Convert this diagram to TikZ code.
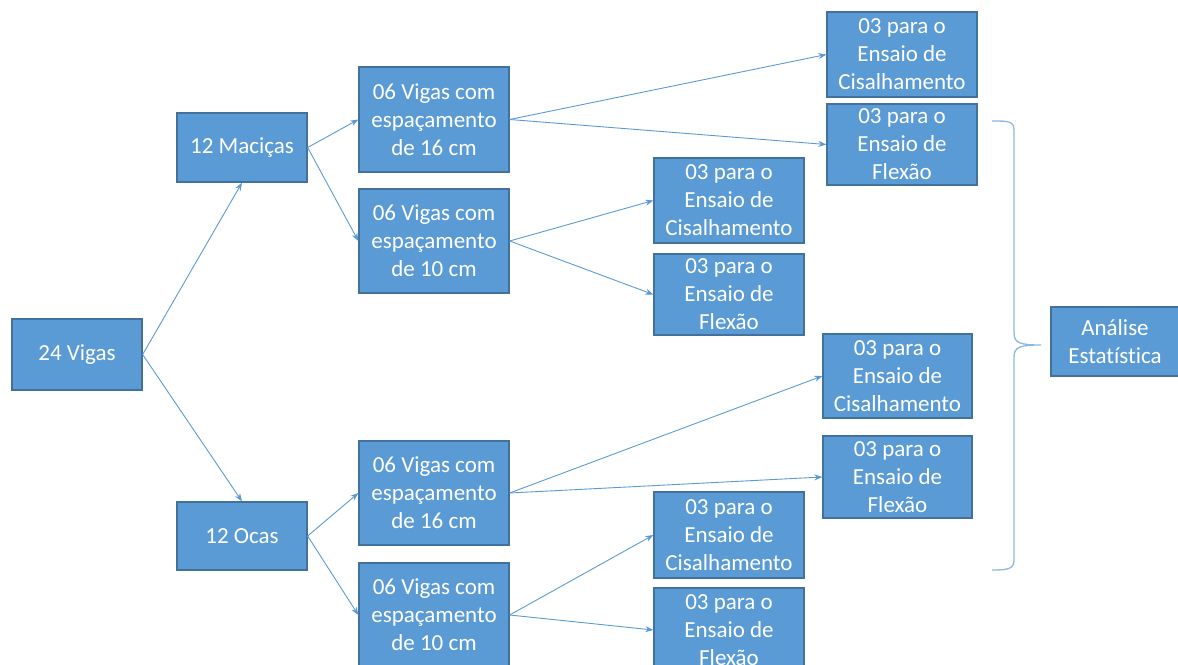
\documentclass[tikz,border=0pt]{standalone}
\usepackage{fontspec}
\setmainfont{Carlito}[Ligatures=NoCommon]
\usetikzlibrary{arrows.meta}
\definecolor{boxfill}{HTML}{5B9BD5}
\definecolor{boxline}{HTML}{41719C}
\definecolor{arrowc}{HTML}{5B9BD5}
\definecolor{bracec}{HTML}{8DB8E3}
\begin{document}
\begin{tikzpicture}[x=1pt,y=-1pt,
  box/.style={draw=boxline,line width=1.3pt,fill=boxfill,text=white,align=center,
    font=\fontsize{23}{28}\selectfont,inner sep=0pt},
  conn/.style={draw=arrowc,line width=0.9pt,-{Stealth[length=8pt,width=6pt]}},
  bracestyle/.style={draw=bracec,line width=1.3pt}]
\useasboundingbox (0,0) rectangle (1178,664);
\clip (0,0) rectangle (1178,664);
\fill[white] (0,0) rectangle (1178,664);
% nodes
\node[box,minimum width=130,minimum height=71] (v24) at (77,354.5) {24 Vigas};
\node[box,minimum width=130,minimum height=69] (mac) at (242,147.5) {12 Maciças};
\node[box,minimum width=130,minimum height=68] (oca) at (242,536) {12 Ocas};
\node[box,minimum width=150,minimum height=105] (m16) at (434,119.5) {06 Vigas com\\espaçamento\\de 16 cm};
\node[box,minimum width=150,minimum height=104] (m10) at (434,241) {06 Vigas com\\espaçamento\\de 10 cm};
\node[box,minimum width=150,minimum height=104] (o16) at (434,493) {06 Vigas com\\espaçamento\\de 16 cm};
\node[box,minimum width=150,minimum height=104] (o10) at (434,615) {06 Vigas com\\espaçamento\\de 10 cm};
\node[box,minimum width=150,minimum height=85] (c1) at (902,54.5) {03 para o\\Ensaio de\\Cisalhamento};
\node[box,minimum width=150,minimum height=81] (f1) at (902,144.5) {03 para o\\Ensaio de\\Flexão};
\node[box,minimum width=150,minimum height=85] (c2) at (729,200.5) {03 para o\\Ensaio de\\Cisalhamento};
\node[box,minimum width=150,minimum height=81] (f2) at (729,294.5) {03 para o\\Ensaio de\\Flexão};
\node[box,minimum width=149,minimum height=84] (c3) at (897.5,376) {03 para o\\Ensaio de\\Cisalhamento};
\node[box,minimum width=149,minimum height=82] (f3) at (897.5,477) {03 para o\\Ensaio de\\Flexão};
\node[box,minimum width=150,minimum height=86] (c4) at (729,535) {03 para o\\Ensaio de\\Cisalhamento};
\node[box,minimum width=150,minimum height=84] (f4) at (729,630) {03 para o\\Ensaio de\\Flexão};
\node[box,minimum width=128,minimum height=69] (an) at (1115,341.5) {Análise\\Estatística};
% connectors
\draw[conn] (v24.east) -- (mac.south);
\draw[conn] (v24.east) -- (oca.north);
\draw[conn] (mac.east) -- (m16.west);
\draw[conn] (mac.east) -- (m10.west);
\draw[conn] (oca.east) -- (o16.west);
\draw[conn] (oca.east) -- (o10.west);
\draw[conn] (m16.east) -- (c1.west);
\draw[conn] (m16.east) -- (f1.west);
\draw[conn] (m10.east) -- (c2.west);
\draw[conn] (m10.east) -- (f2.west);
\draw[conn] (o16.east) -- (c3.west);
\draw[conn] (o16.east) -- (f3.west);
\draw[conn] (o10.east) -- (c4.west);
\draw[conn] (o10.east) -- (f4.west);
% brace
\coordinate (bt) at (992,121);
\coordinate (bb) at (992,570);
\coordinate (btip) at (1041,345);
\draw[bracestyle] (bt) .. controls (1008,121) and (1014,121) .. (1014,130)
  -- (1014,333) .. controls (1014,343) and (1020,345) .. (btip)
  (btip) .. controls (1020,345) and (1014,347) .. (1014,357)
  -- (1014,560) .. controls (1014,569) and (1008,570) .. (bb);
\end{tikzpicture}
\end{document}
